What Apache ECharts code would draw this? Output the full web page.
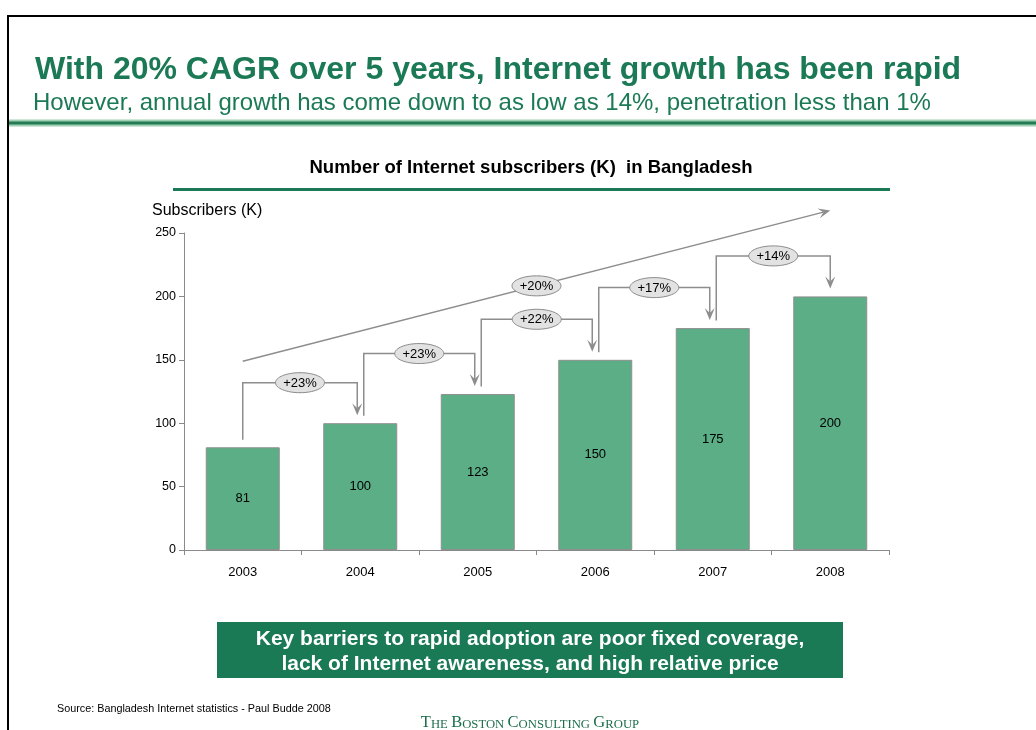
<!DOCTYPE html>
<html>
<head>
<meta charset="utf-8">
<title>Internet subscribers in Bangladesh</title>
<script src="https://cdn.jsdelivr.net/npm/echarts@6/dist/echarts.min.js"></script>
<style>
  html, body { margin: 0; padding: 0; background: #ffffff; }
  #chart { width: 1036px; height: 730px; }
</style>
</head>
<body>
<div id="chart"></div>
<script>
// Subscribers (thousands) per year
const years = ['2003', '2004', '2005', '2006', '2007', '2008'];
const subscribers = [81, 100, 123, 150, 175, 200];
// Year-on-year growth between consecutive bars, and overall CAGR
const growthLabels = ['+23%', '+23%', '+22%', '+17%', '+14%'];
const cagrLabel = '+20%';
// Value axis ticks
const yMin = 0;
const yMax = 250;
const yStep = 50;

const FONT = '"Liberation Sans", Arial, Helvetica, sans-serif';
const SERIF = '"Liberation Serif", "DejaVu Serif", serif';
const GREEN = '#1b7a55';
const BAR_GREEN = '#5bae85';
const ARROW_GREY = '#8d8d8d';

const chart = echarts.init(document.getElementById('chart'), null, { renderer: 'canvas' });

function txt(t, x, y, font, fill, align, extra) {
  return Object.assign({
    type: 'text',
    silent: true,
    style: {
      text: t, x: x, y: y, font: font, fill: fill,
      align: align || 'left', textAlign: align || 'left',
      verticalAlign: 'middle', textVerticalAlign: 'middle'
    }
  }, extra || {});
}

// Chevron arrow head pointing along (ux, uy) with tip at (tx, ty)
function arrowHead(tx, ty, ux, uy, color) {
  const nx = -uy, ny = ux;
  const len = 12, half = 5, notch = 7;
  const bx = tx - ux * len, by = ty - uy * len;
  return {
    type: 'polygon',
    shape: { points: [
      [tx, ty],
      [bx + nx * half, by + ny * half],
      [tx - ux * notch, ty - uy * notch],
      [bx - nx * half, by - ny * half]
    ] },
    style: { fill: color, stroke: null }
  };
}

function bubble(cx, cy, label) {
  return [
    {
      type: 'ellipse',
      shape: { cx: cx, cy: cy, rx: 24.5, ry: 10 },
      style: { fill: '#e2e2e2', stroke: '#8a8a8a', lineWidth: 1 }
    },
    {
      type: 'text',
      style: {
        text: label, x: cx, y: cy + 0.5,
        align: 'center', textAlign: 'center',
        verticalAlign: 'middle', textVerticalAlign: 'middle',
        font: '13px ' + FONT, fill: '#000'
      }
    }
  ];
}

// Step brackets from one bar to the next, labelled with the growth
const stepData = growthLabels.map((g, i) => [i, subscribers[i], subscribers[i + 1]]);

function renderStep(params, api) {
  const i = api.value(0);
  const last = growthLabels.length - 1;
  const a = api.coord([i, api.value(1)]);
  const b = api.coord([i + 1, api.value(2)]);
  const x0 = a[0] + (i > 0 ? 3.5 : 0);
  const x1 = b[0] - (i < last ? 3 : 0);
  const y0 = a[1] - 7.5;
  const yTop = b[1] - 40.5;
  const yTip = b[1] - 8;
  const children = [
    {
      type: 'polyline',
      shape: { points: [[x0, y0], [x0, yTop], [x1, yTop], [x1, yTip - 7]] },
      style: { stroke: ARROW_GREY, lineWidth: 1.5, fill: null }
    },
    arrowHead(x1, yTip, 0, 1, ARROW_GREY)
  ].concat(bubble((x0 + x1) / 2, yTop, growthLabels[i]));
  return { type: 'group', children: children };
}

// Overall trend arrow from first to last year
const cagrData = [[0, subscribers[0], subscribers[subscribers.length - 1]]];

function renderCagr(params, api) {
  const n = years.length - 1;
  const a = api.coord([0, api.value(1)]);
  const b = api.coord([n, api.value(2)]);
  const lift = 86;
  const sx = a[0], sy = a[1] - lift;
  const ex = b[0], ey = b[1] - lift;
  const dx = ex - sx, dy = ey - sy;
  const d = Math.sqrt(dx * dx + dy * dy);
  const ux = dx / d, uy = dy / d;
  const children = [
    {
      type: 'line',
      shape: { x1: sx, y1: sy, x2: ex - ux * 7, y2: ey - uy * 7 },
      style: { stroke: ARROW_GREY, lineWidth: 1.5 }
    },
    arrowHead(ex, ey, ux, uy, ARROW_GREY)
  ].concat(bubble((sx + ex) / 2, (sy + ey) / 2, cagrLabel));
  return { type: 'group', children: children };
}

const option = {
  backgroundColor: '#ffffff',
  animation: false,
  textStyle: { fontFamily: FONT },
  grid: { left: 184, right: 147, top: 233, bottom: 180, containLabel: false },
  xAxis: {
    type: 'category',
    data: years,
    boundaryGap: true,
    axisLine: { show: true, lineStyle: { color: '#8a8a8a', width: 1 } },
    axisTick: { show: true, alignWithLabel: false, length: 5, lineStyle: { color: '#8a8a8a' } },
    axisLabel: { color: '#000', fontSize: 13, fontFamily: FONT, margin: 16 },
    splitLine: { show: false }
  },
  yAxis: {
    type: 'value',
    min: yMin,
    max: yMax,
    interval: yStep,
    axisLine: { show: true, lineStyle: { color: '#8a8a8a', width: 1 } },
    axisTick: { show: true, length: 5, lineStyle: { color: '#8a8a8a' } },
    axisLabel: { color: '#000', fontSize: 12.5, fontFamily: FONT, margin: 8 },
    splitLine: { show: false }
  },
  series: [
    {
      type: 'bar',
      data: subscribers,
      barWidth: 74,
      itemStyle: { color: BAR_GREEN, borderColor: '#8f8f8f', borderWidth: 1 },
      label: {
        show: true, position: 'inside', color: '#000',
        fontSize: 13, fontFamily: FONT
      },
      z: 2
    },
    {
      type: 'custom',
      data: stepData,
      encode: { x: 0, y: 1 },
      renderItem: renderStep,
      clip: false,
      silent: true,
      z: 5
    },
    {
      type: 'custom',
      data: cagrData,
      encode: { x: 0, y: 1 },
      renderItem: renderCagr,
      clip: false,
      silent: true,
      z: 4
    }
  ],
  graphic: [
    // page frame
    { type: 'rect', silent: true, shape: { x: 7, y: 15, width: 1040, height: 2 }, style: { fill: '#000' } },
    { type: 'rect', silent: true, shape: { x: 7, y: 15, width: 2, height: 720 }, style: { fill: '#000' } },
    // header rule
    { type: 'rect', silent: true, shape: { x: 9, y: 119.5, width: 1030, height: 7 }, style: { fill: '#9fd0b4' } },
    { type: 'rect', silent: true, shape: { x: 9, y: 121.5, width: 1030, height: 3 }, style: { fill: '#237a53' } },
    txt('With 20% CAGR over 5 years, Internet growth has been rapid', 35, 70.5, 'bold 32px ' + FONT, GREEN),
    txt('However, annual growth has come down to as low as 14%, penetration less than 1%', 33, 103.5, '24px ' + FONT, GREEN),
    // chart heading
    txt('Number of Internet subscribers (K)  in Bangladesh', 531, 168, 'bold 18.5px ' + FONT, '#000', 'center'),
    { type: 'rect', silent: true, shape: { x: 173, y: 188, width: 717, height: 3 }, style: { fill: GREEN } },
    txt('Subscribers (K)', 152, 211, '16px ' + FONT, '#000'),
    // key message box
    { type: 'rect', silent: true, shape: { x: 217, y: 622, width: 626, height: 56 }, style: { fill: '#1a7a56' } },
    txt('Key barriers to rapid adoption are poor fixed coverage,', 530, 639, 'bold 21px ' + FONT, '#ffffff', 'center'),
    txt('lack of Internet awareness, and high relative price', 530, 664.5, 'bold 21px ' + FONT, '#ffffff', 'center'),
    // footer
    txt('Source: Bangladesh Internet statistics - Paul Budde 2008', 57, 709, '10.8px ' + FONT, '#000'),
    {
      type: 'text',
      silent: true,
      style: {
        text: '{b|T}{s|HE} {b|B}{s|OSTON} {b|C}{s|ONSULTING} {b|G}{s|ROUP}',
        x: 530, y: 722.5,
        align: 'center', textAlign: 'center',
        verticalAlign: 'middle', textVerticalAlign: 'middle',
        fill: '#1e6e4c',
        rich: {
          b: { fontSize: 16.5, fontFamily: SERIF, fill: '#1e6e4c', color: '#1e6e4c', verticalAlign: 'bottom' },
          s: { fontSize: 12.7, fontFamily: SERIF, fill: '#1e6e4c', color: '#1e6e4c', verticalAlign: 'bottom' }
        }
      }
    }
  ]
};

chart.setOption(option);
</script>
</body>
</html>
